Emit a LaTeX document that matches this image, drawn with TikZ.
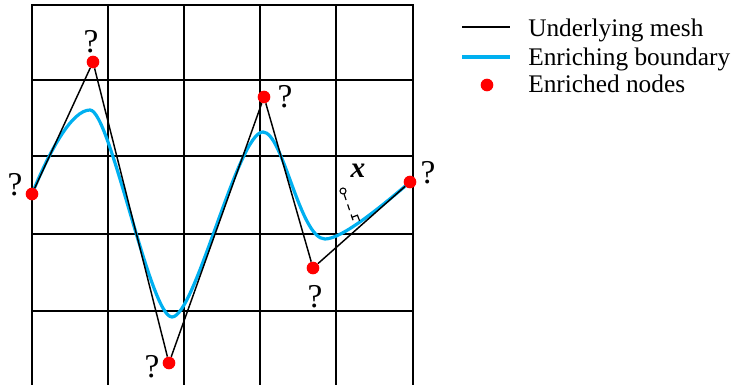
\documentclass[tikz,border=0pt]{standalone}
\usepackage{fontspec}
\setmainfont{Liberation Serif}
\definecolor{boundblue}{RGB}{0,176,240}
\definecolor{nodered}{RGB}{255,0,0}

\begin{document}
\begin{tikzpicture}[x=0.75pt,y=-0.75pt,
    gridline/.style={line width=1.5pt,black},
    meshline/.style={line width=1.1pt,black},
    boundline/.style={line width=2.4pt,boundblue},
    enode/.style={circle,fill=nodered,inner sep=0pt,minimum size=9.5pt},
    qmark/.style={inner sep=0pt,font=\fontsize{25}{28}\selectfont},
    legtext/.style={inner sep=0pt,anchor=base west,font=\fontsize{19}{22}\selectfont}]
    \useasboundingbox (0,0) rectangle (736,385);
    \draw[gridline] (32,385) -- (32,5) -- (413,5) -- (413,385);
    \draw[gridline] (108,5) -- (108,385);
    \draw[gridline] (184,5) -- (184,385);
    \draw[gridline] (260,5) -- (260,385);
    \draw[gridline] (336,5) -- (336,385);
    \draw[gridline] (32,80) -- (413,80);
    \draw[gridline] (32,156) -- (413,156);
    \draw[gridline] (32,234) -- (413,234);
    \draw[gridline] (32,311) -- (413,311);
    \draw[boundline] (32,194) .. controls (50,150) and (72,110) .. (90,110)
      .. controls (110,110) and (150,317) .. (172,317)
      .. controls (195,317) and (238,132) .. (263,132)
      .. controls (283,132) and (300,239) .. (325,239)
      .. controls (342,239) and (382,206) .. (410,182);
    \node[enode] (nA) at (32,194) {};
    \node[enode] (nB) at (93,62) {};
    \node[enode] (nC) at (169,363) {};
    \node[enode] (nD) at (264,97) {};
    \node[enode] (nE) at (313,268) {};
    \node[enode] (nF) at (410,182) {};
    \draw[meshline] (nA) -- (nB) -- (nC) -- (nD) -- (nE) -- (nF);
    \node[qmark] (qA) at (15,185) {?};
    \node[qmark] (qB) at (91,42) {?};
    \node[qmark] (qC) at (152,367) {?};
    \node[qmark] (qD) at (285,97) {?};
    \node[qmark] (qE) at (315,297) {?};
    \node[qmark] (qF) at (428,173) {?};
    \node[circle,draw,fill=white,line width=0.8pt,inner sep=0pt,minimum size=4.5pt] (xp) at (343,191) {};
    \coordinate (xfoot) at (354,223);
    \draw[line width=0.9pt,dash pattern=on 4.5pt off 3.5pt] (xp) -- (xfoot);
    \draw[line width=0.9pt] (351.8,217.4) -- (357.4,215.2) -- (359.6,220.8);
    \node[inner sep=0pt,font=\fontsize{22}{24}\selectfont\bfseries\itshape] (xlab) at (358,171) {x};
    \draw[meshline] (462,27) -- (510,27);
    \draw[boundline] (462,57) -- (510,57);
    \node[enode] (lgdot) at (487,85) {};
    \node[legtext] (lgA) at (528,37) {Underlying mesh};
    \node[legtext] (lgB) at (528,66) {Enriching boundary};
    \node[legtext] (lgC) at (528,93) {Enriched nodes};
\end{tikzpicture}
\end{document}
